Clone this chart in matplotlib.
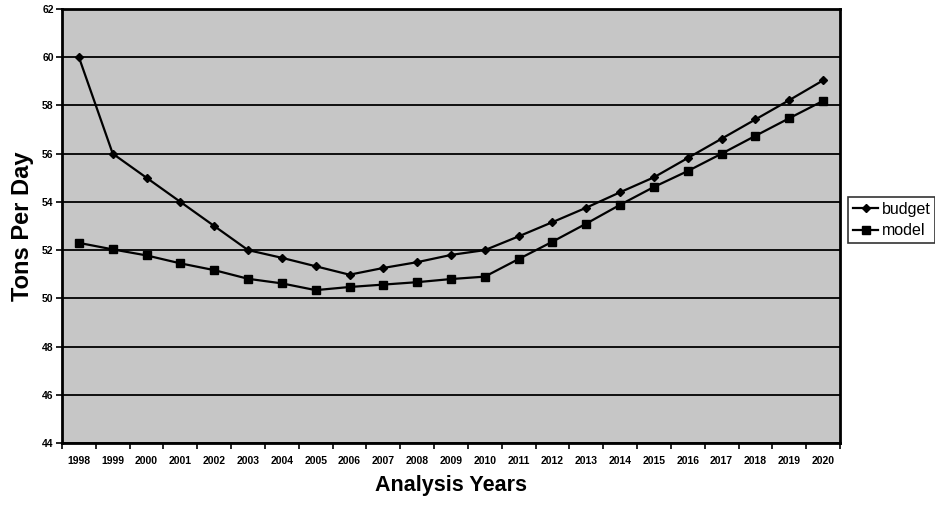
import numpy as np
import matplotlib
matplotlib.use("Agg")
import matplotlib.pyplot as plt
from matplotlib.ticker import FixedLocator

# tons per day, budget vs. model, by analysis year
years = [str(y) for y in range(1998, 2021)]
budget = [60.0, 56.0, 55.0, 54.0, 53.0, 52.0, 51.68, 51.33, 50.98, 51.26, 51.5, 51.8,
          52.0, 52.57, 53.16, 53.76, 54.4, 55.02, 55.82, 56.62, 57.42, 58.22, 59.04]
model = [52.3, 52.03, 51.78, 51.45, 51.17, 50.81, 50.62, 50.34, 50.47, 50.57, 50.67, 50.8,
         50.9, 51.63, 52.35, 53.1, 53.88, 54.62, 55.28, 56.0, 56.74, 57.47, 58.19]
y_ticks = list(range(44, 63, 2))

plt.rcParams["font.family"] = ["Liberation Sans", "DejaVu Sans"]

fig = plt.figure(figsize=(9.35, 5.09), dpi=100)
ax = fig.add_axes([62 / 935, 1 - 443 / 509, 778 / 935, 434 / 509])
ax.set_facecolor("#c6c6c6")

x = np.arange(len(years))
ax.plot(x, budget, color="black", lw=1.6, marker="D", markersize=4.5, label="budget", zorder=3)
ax.plot(x, model, color="black", lw=1.6, marker="s", markersize=5.5, label="model", zorder=3)

ax.set_xlim(-0.5, len(years) - 0.5)
ax.set_ylim(44, 62)

# year labels centred on categories, tick marks on the boundaries
ax.set_xticks(x)
ax.set_xticklabels(years, fontsize=7.5, fontweight="bold")
ax.xaxis.set_minor_locator(FixedLocator(np.arange(-0.5, len(years), 1.0)))
ax.tick_params(axis="x", which="major", length=0, pad=9)
ax.tick_params(axis="x", which="minor", length=4, width=1.2, direction="out")

ax.set_yticks(y_ticks)
ax.set_yticklabels([str(v) for v in y_ticks], fontsize=7.5, fontweight="bold")
ax.tick_params(axis="y", length=4, width=1.2, direction="out", pad=2)

ax.grid(axis="y", color="black", lw=1.3)
ax.set_axisbelow(True)
for s in ax.spines.values():
    s.set_linewidth(2)
    s.set_color("black")

ax.set_ylabel("Tons Per Day", fontsize=17, fontweight="bold", labelpad=6)
ax.set_xlabel("Analysis Years", fontsize=15.5, fontweight="bold", labelpad=7)

leg = ax.legend(loc="upper left", bbox_to_anchor=(848 / 935, 1 - 197 / 509),
                bbox_transform=fig.transFigure, frameon=True, fancybox=False,
                fontsize=11.5, handlelength=1.6, handletextpad=0.2, borderpad=0.3,
                labelspacing=0.4, borderaxespad=0)
leg.get_frame().set_edgecolor("black")
leg.get_frame().set_linewidth(1.2)

fig.savefig("out.png", dpi=100)
